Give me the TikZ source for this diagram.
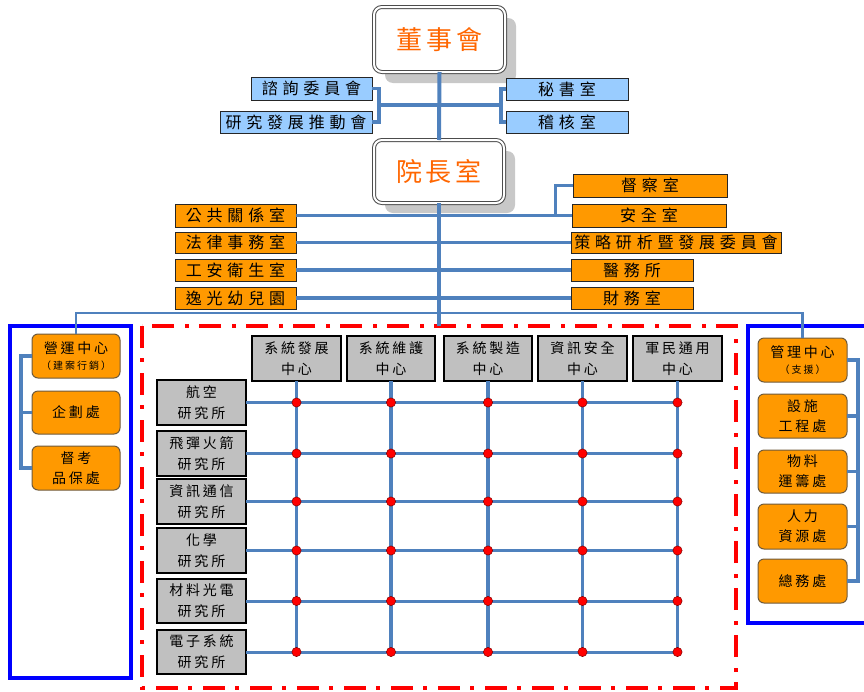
\documentclass[tikz,border=0pt]{standalone}
\usepackage{fontspec}
\newfontfamily\cjkw[LetterSpace=30]{Noto Sans CJK TC}
\newfontfamily\cjkm[LetterSpace=20]{Noto Sans CJK TC}
\newfontfamily\cjkt[LetterSpace=14]{Noto Sans CJK TC}
\definecolor{lblue}{RGB}{153,204,255}
\definecolor{orng}{RGB}{255,153,0}
\definecolor{gry}{RGB}{192,192,192}
\definecolor{connblue}{RGB}{79,129,189}
\definecolor{ttlorange}{RGB}{255,102,0}
\definecolor{shadowgray}{RGB}{200,200,200}
\definecolor{obrd}{RGB}{110,90,60}
\newcommand\mkbox[7]{\node[#1, minimum width={(#5)-(#3)}, minimum height={(#6)-(#4)}] (#2) at ({((#3)+(#5))/2},{((#4)+(#6))/2}) {#7};}
\tikzset{
 conn/.style={draw=connblue, line width=3.4pt},
 basebox/.style={inner sep=0pt, outer sep=0pt, align=center, text=black},
 lbbox/.style={basebox, fill=lblue, draw=black!85, line width=1pt, font=\cjkw\fontsize{16}{18}\selectfont},
 obox/.style={basebox, fill=orng, draw=black!85, line width=1pt, font=\cjkw\fontsize{16}{18}\selectfont},
 orbox/.style={basebox, fill=orng, draw=obrd, line width=1pt, rounded corners=6pt, font=\cjkm\fontsize{14}{20}\selectfont},
 gbox/.style={basebox, fill=gry, draw=black, line width=1.2pt, font=\cjkm\fontsize{14}{21}\selectfont},
 ttl/.style={basebox, fill=white, draw=black!70, line width=1pt, double=white, double distance=2pt, rounded corners=8pt, text=ttlorange, font=\cjkt\fontsize{26}{28}\selectfont},
 shd/.style={fill=shadowgray, rounded corners=8pt},
 dotm/.style={fill=red, draw=red!50!black, line width=0.5pt},
}
\begin{document}
\begin{tikzpicture}[x=1pt,y=-1pt]
\useasboundingbox (0,0) rectangle (864,691);
% shadows
\fill[shd] (385,18) rectangle (516,83);
\fill[shd] (385,151) rectangle (515,213);
% frames
\draw[red, line width=4pt, dash pattern=on 22pt off 10pt on 4pt off 11pt] (142,326) rectangle (736,688);
\draw[blue, line width=4pt] (10,326) rectangle (131,678);
\draw[blue, line width=4pt] (866,326) -- (748,326) -- (748,623) -- (866,623);
% top
\mkbox{ttl}{board}{374}{7}{505}{72}{董事會}
\mkbox{ttl}{pres}{374}{140}{504}{203}{院長室}
\mkbox{lbbox}{advis}{251}{77}{372}{100}{諮詢委員會}
\mkbox{lbbox}{rnd}{220}{111}{372}{133}{研究發展推動會}
\mkbox{lbbox}{sec}{506}{78}{628}{100}{秘書室}
\mkbox{lbbox}{audit}{506}{111}{628}{133}{稽核室}
% president level
\mkbox{obox}{pr}{175}{204}{296}{227}{公共關係室}
\mkbox{obox}{legal}{175}{232}{296}{253}{法律事務室}
\mkbox{obox}{ish}{175}{259}{296}{281}{工安衛生室}
\mkbox{obox}{kid}{175}{287}{296}{309}{逸光幼兒園}
\mkbox{obox}{insp}{573}{174}{727}{197}{督察室}
\mkbox{obox}{safe}{572}{204}{726}{227}{安全室}
\mkbox{obox}{strat}{571}{232}{781}{253}{策略研析暨發展委員會}
\mkbox{obox}{med}{571}{259}{693}{281}{醫務所}
\mkbox{obox}{fin}{571}{287}{693}{309}{財務室}
% left group
\mkbox{orbox}{ops}{32}{334}{120}{378}{營運中心\\[-4pt]{\fontsize{10}{12}\selectfont （建案行銷）}}
\mkbox{orbox}{plan}{32}{391}{120}{434}{企劃處}
\mkbox{orbox}{qa}{32}{446}{120}{490}{督考\\品保處}
% right group
\mkbox{orbox}{mgmt}{758}{338}{847}{382}{管理中心\\[-4pt]{\fontsize{10}{12}\selectfont （支援）}}
\mkbox{orbox}{fac}{758}{394}{847}{438}{設施\\工程處}
\mkbox{orbox}{mat}{758}{450}{847}{493}{物料\\運籌處}
\mkbox{orbox}{hum}{758}{504}{847}{549}{人力\\資源處}
\mkbox{orbox}{gen}{758}{559}{847}{603}{總務處}
% centers
\mkbox{gbox}{c1}{252}{336}{341}{381}{系統發展\\中心}
\mkbox{gbox}{c2}{347}{336}{435}{381}{系統維護\\中心}
\mkbox{gbox}{c3}{444}{336}{532}{381}{系統製造\\中心}
\mkbox{gbox}{c4}{538}{336}{627}{381}{資訊安全\\中心}
\mkbox{gbox}{c5}{633}{336}{722}{381}{軍民通用\\中心}
% institutes
\mkbox{gbox}{r1}{157}{380}{246}{425}{航空\\研究所}
\mkbox{gbox}{r2}{157}{431}{246}{476}{飛彈火箭\\研究所}
\mkbox{gbox}{r3}{157}{479}{246}{524}{資訊通信\\研究所}
\mkbox{gbox}{r4}{157}{528}{246}{573}{化學\\研究所}
\mkbox{gbox}{r5}{157}{579}{246}{623}{材料光電\\研究所}
\mkbox{gbox}{r6}{157}{630}{246}{674}{電子系統\\研究所}
% connectors top
\coordinate (jl) at (379,105);
\coordinate (jr) at (501,105);
\draw[conn] (advis.east) -| (jl) |- (rnd.east);
\draw[conn] (sec.west) -| (jr) |- (audit.west);
\draw[conn] (jl) -- (jr);
\draw[conn, line width=4pt] (board.south) -- (pres.north);
% president level connectors
\coordinate (ji) at (555,215.5);
\draw[conn, line width=3pt] (pr.east) -- (safe.west);
\draw[conn, line width=3pt] (insp.west) -| (ji);
\draw[conn] (legal.east) -- (strat.west);
\draw[conn] (ish.east) -- (med.west);
\draw[conn] (kid.east) -- (fin.west);
\coordinate (redtop) at (439,326);
\draw[conn, line width=3.4pt] (pres.south) -- (redtop);
\coordinate (hl) at (76,313);
\coordinate (hrr) at (802.5,313);
\draw[conn, line width=2.8pt] (ops.north) -- (hl) -- (hrr) -- (mgmt.north);
% brackets
\coordinate (lbk) at (21,468);
\draw[conn] (ops.west) -| (lbk) -- (qa.west);
\draw[conn] (plan.west) -- (plan.west -| lbk);
\coordinate (rbk) at (858,581);
\draw[conn] (mgmt.east) -| (rbk) -- (gen.east);
\foreach \n in {fac,mat,hum} \draw[conn] (\n.east) -- (\n.east -| rbk);
% matrix
\foreach \c in {1,...,5} \draw[conn, line width=3.6pt] (c\c.south) -- (c\c.south |- r6.east);
\foreach \r in {1,...,6} \draw[conn, line width=3pt] (r\r.east) -- (r\r.east -| c5.south);
\foreach \c in {1,...,5}{\foreach \r in {1,...,6}{\filldraw[dotm] (c\c.south |- r\r.east) circle (4.6pt);}}
\end{tikzpicture}
\end{document}
